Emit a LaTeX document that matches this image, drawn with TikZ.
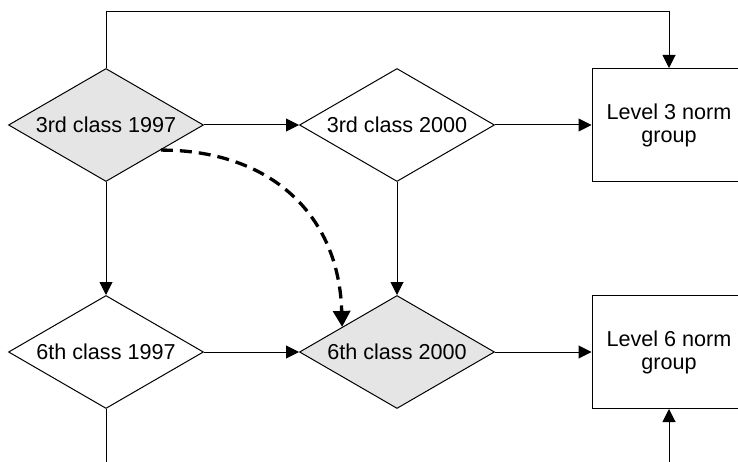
\documentclass[tikz,border=0pt]{standalone}
\usepackage{fontspec}
\setmainfont{Liberation Sans}
\usetikzlibrary{shapes.geometric,arrows.meta,calc}
\begin{document}
\begin{tikzpicture}[x=1pt,y=-1pt,
  every node/.style={font=\fontsize{21.6}{23}\selectfont},
  decision/.style={diamond, draw=black, line width=1pt, inner sep=0pt,
    minimum width=195pt, minimum height=113pt, aspect=1.7},
  shaded/.style={fill=gray!20},
  groupbox/.style={rectangle, draw=black, line width=1pt, inner sep=0pt,
    minimum width=154pt, minimum height=113pt, align=center},
  flow/.style={line width=1pt, -{Triangle[length=13pt,width=13pt]}},
  link/.style={line width=3.3pt, dash pattern=on 12pt off 7pt,
    -{Triangle[length=16pt,width=17pt]}}
]
\useasboundingbox (0,0) rectangle (738,462);
\clip (0,0) rectangle (738,462);

% decisions and norm groups
\node[decision, shaded] (d1) at (106,125) {3rd class 1997};
\node[decision]         (d2) at (397,125) {3rd class 2000};
\node[groupbox]         (b3) at (669,125) {Level 3 norm\\group};
\node[decision]         (d3) at (106,352) {6th class 1997};
\node[decision, shaded] (d4) at (397,352) {6th class 2000};
\node[groupbox]         (b6) at (669,352) {Level 6 norm\\group};

% helper levels for the open lines
\coordinate (topy) at (0,12);
\coordinate (boty) at (0,470);

% connectors
\draw[flow] (d1.north) -- (d1.north |- topy) -| (b3.north);
\draw[flow] (d1.east) -- (d2.west);
\draw[flow] (d2.east) -- (b3.west);
\draw[flow] (d1.south) -- (d3.north);
\draw[flow] (d2.south) -- (d4.north);
\draw[flow] (d3.east) -- (d4.west);
\draw[flow] (d4.east) -- (b6.west);
\draw[line width=1pt] (d3.south) -- (d3.south |- boty);
\draw[flow] (b6.south |- boty) -- (b6.south);

% dashed link between the shaded decisions
\draw[link] ($(d1.east)!0.44!(d1.south)$)
  .. controls +(110,0) and +(-3,-112) .. ($(d4.west)!0.44!(d4.north)$);
\end{tikzpicture}
\end{document}
